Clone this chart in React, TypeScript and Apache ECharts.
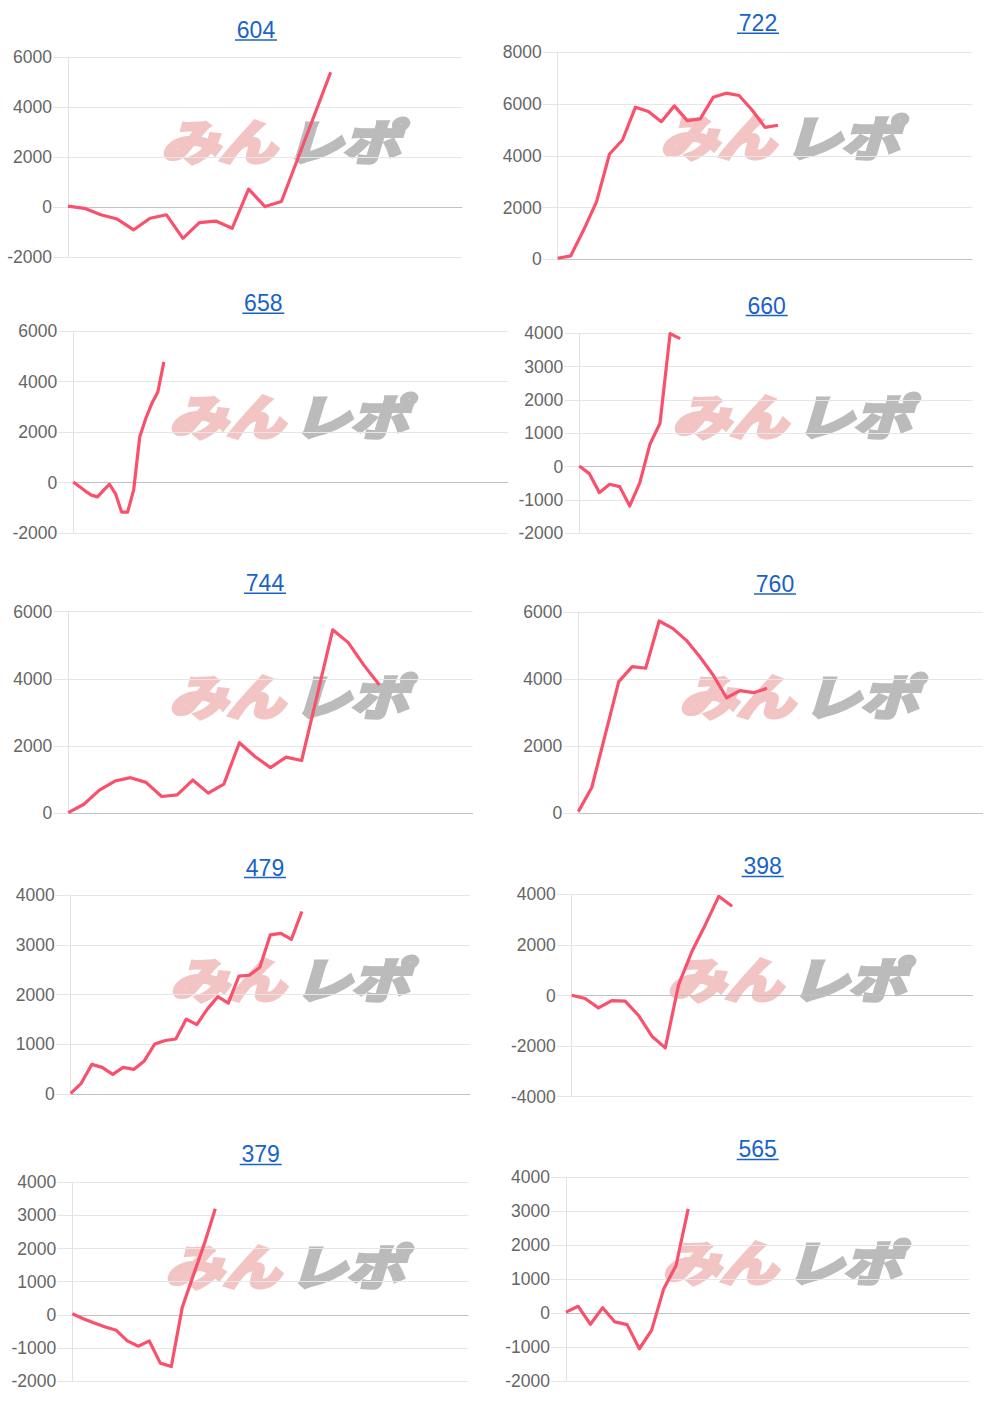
import React, { useEffect, useRef } from "react";
import * as echarts from "echarts";

// ---- data ----
const titles = ["604", "722", "658", "660", "744", "760", "479", "398", "379", "565"];
const s604 = [50, -40, -300, -470, -900, -440, -300, -1240, -610, -550, -840, 730, 30, 230, 1950, 3670, 5400];
const s722 = [40, 130, 1130, 2230, 4070, 4610, 5880, 5710, 5320, 5930, 5360, 5430, 6260, 6420, 6330, 5770, 5100, 5180];
const s658 = [30, -150, -330, -490, -560, -300, -60, -440, -1160, -1160, -280, 1810, 2540, 3130, 3590, 4780];
const s660 = [20, -210, -780, -530, -600, -1180, -480, 670, 1300, 3990, 3840];
const s744 = [20, 270, 690, 960, 1060, 920, 500, 550, 990, 600, 870, 2100, 1690, 1360, 1670, 1570, 3510, 5460, 5080, 4410, 3820];
const s760 = [50, 770, 2350, 3930, 4380, 4330, 5740, 5520, 5170, 4680, 4130, 3450, 3660, 3600, 3730];
const s479 = [20, 220, 600, 540, 400, 540, 500, 670, 1010, 1080, 1110, 1510, 1400, 1710, 1960, 1830, 2370, 2390, 2550, 3200, 3230, 3110, 3670];
const s398 = [10, -120, -490, -200, -220, -790, -1610, -2070, 430, 1750, 2800, 3920, 3530];
const s379 = [30, -120, -250, -370, -470, -790, -950, -790, -1460, -1560, 230, 1190, 2140, 3200];
const s565 = [30, 200, -330, 160, -260, -340, -1050, -510, 720, 1400, 3070];
const seriesList = [s604, s722, s658, s660, s744, s760, s479, s398, s379, s565];
// number of x slots on each panel's (unlabelled) x axis
const slotCounts = [25, 33, 73, 40, 27, 31, 39, 31, 37, 34];
// y axis tick settings
const yMins = [-2000, 0, -2000, -2000, 0, 0, 0, -4000, -2000, -2000];
const yMaxs = [6000, 8000, 6000, 4000, 6000, 6000, 4000, 4000, 4000, 4000];
const ySteps = [2000, 2000, 2000, 1000, 2000, 2000, 1000, 2000, 1000, 1000];

// ---- layout ----
const grids = [
  { left: 68, top: 57.3, width: 394, height: 200 },
  { left: 557.7, top: 52.3, width: 414.6, height: 207 },
  { left: 73.3, top: 331, width: 434.7, height: 202.3 },
  { left: 579.3, top: 333.3, width: 393.4, height: 200 },
  { left: 68.3, top: 611.7, width: 404.4, height: 201.6 },
  { left: 578.3, top: 612.3, width: 404.4, height: 201 },
  { left: 70.7, top: 895, width: 399.3, height: 199.3 },
  { left: 571.7, top: 894.3, width: 401, height: 202.4 },
  { left: 72.3, top: 1182.3, width: 396, height: 198.7 },
  { left: 566, top: 1177.3, width: 403.3, height: 203.7 },
];
const titlePos = [
  [256, 29.5, 40], [758, 22.5, 33.3], [263.3, 303.3, 313.3], [766.7, 306, 315.5], [265, 583.3, 593.3],
  [775, 584, 594], [265, 867.7, 877.5], [762.7, 866, 876.5], [260.7, 1154, 1164.5], [757.7, 1149, 1159.5],
];
const marks = [
  [159, 122], [658, 118], [167, 397], [670, 397], [167, 677],
  [677, 677], [168, 960], [665, 960], [163, 1247], [660, 1243],
];

const FONT = '"Liberation Sans", Arial, Helvetica, sans-serif';
const MARK_FONT = `italic bold 48px "Noto Sans CJK JP", sans-serif`;

function buildOption() {
  const graphic: any[] = [];
  titles.forEach((t, i) => {
    const [cx, cy, uy] = titlePos[i];
    graphic.push({
      type: "text",
      x: cx,
      y: cy,
      z: 10,
      style: {
        text: t,
        fill: "#1a63c6",
        font: `23px ${FONT}`,
        textAlign: "center",
        textVerticalAlign: "middle",
        align: "center",
        verticalAlign: "middle",
      },
    });
    graphic.push({
      type: "line",
      z: 10,
      shape: { x1: cx - 21, y1: uy, x2: cx + 21, y2: uy },
      style: { stroke: "#1a63c6", lineWidth: 1.5 },
    });
    const [mx, my] = marks[i];
    graphic.push({
      type: "group",
      x: mx,
      y: my - 7,
      z: -1,
      children: [
        {
          type: "text",
          x: 2,
          y: 0,
          z: -1,
          scaleX: 1.2,
          style: {
            text: "みん",
            fill: "#f2c4c4",
            stroke: "#f2c4c4",
            lineWidth: 4,
            font: MARK_FONT,
            textVerticalAlign: "top",
            verticalAlign: "top",
          },
        },
        {
          type: "text",
          x: 126,
          y: 0,
          z: -1,
          scaleX: 1.2,
          style: {
            text: "レポ",
            fill: "#bbbbbb",
            stroke: "#bbbbbb",
            lineWidth: 4,
            font: MARK_FONT,
            textVerticalAlign: "top",
            verticalAlign: "top",
          },
        },
      ],
    });
  });

  return {
    animation: false,
    backgroundColor: "#ffffff",
    grid: grids.map((g) => ({ ...g, containLabel: false })),
    xAxis: seriesList.map((_, i) => ({
      type: "category",
      gridIndex: i,
      boundaryGap: false,
      data: Array.from({ length: slotCounts[i] }, (_, k) => String(k + 1)),
      axisLine: { show: true, onZero: true, lineStyle: { color: "#c2c2c2", width: 1 } },
      axisTick: { show: false },
      axisLabel: { show: false },
      splitLine: { show: false },
    })),
    yAxis: seriesList.map((_, i) => ({
      type: "value",
      gridIndex: i,
      min: yMins[i],
      max: yMaxs[i],
      interval: ySteps[i],
      axisLine: { show: true, lineStyle: { color: "#e2e2e2" } },
      axisTick: { show: true, length: 15, lineStyle: { color: "#e6e6e6" } },
      axisLabel: {
        color: "#666666",
        fontSize: 17.5,
        margin: 16,
        fontFamily: FONT,
        formatter: (v: number) => String(v),
      },
      splitLine: { show: true, lineStyle: { color: "#e6e6e6", width: 1 } },
    })),
    series: seriesList.map((d, i) => ({
      type: "line",
      xAxisIndex: i,
      yAxisIndex: i,
      data: d,
      showSymbol: false,
      symbol: "none",
      z: 5,
      lineStyle: { color: "#f9506c", width: 3.2, join: "round" },
      itemStyle: { color: "#f9506c" },
    })),
    graphic,
  };
}

export default function App() {
  const ref = useRef<HTMLDivElement>(null);
  useEffect(() => {
    if (!ref.current) return;
    const chart = echarts.init(ref.current, undefined, { renderer: "svg" });
    chart.setOption(buildOption() as any);
    return () => chart.dispose();
  }, []);
  return (
    <div
      ref={ref}
      style={{ position: "absolute", left: 0, top: 0, width: 1000, height: 1405, background: "#fff" }}
    />
  );
}
